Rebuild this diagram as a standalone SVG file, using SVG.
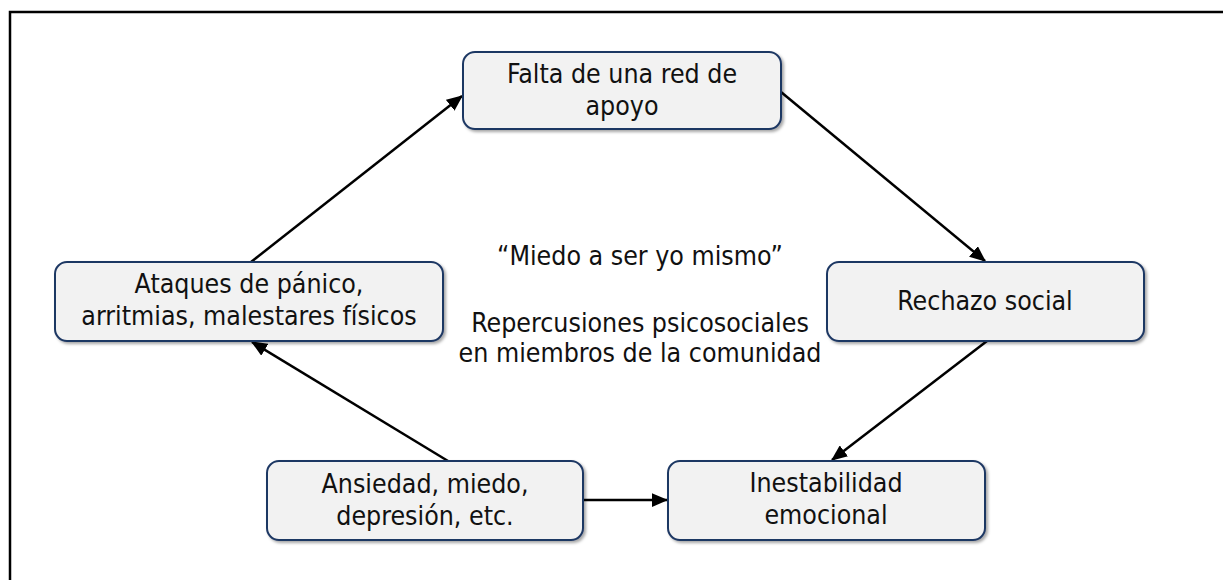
<svg xmlns="http://www.w3.org/2000/svg" width="1223" height="580" viewBox="0 0 1223 580">
<style>
.box{fill:#f2f2f2;stroke:#1f3864;stroke-width:2;filter:url(#sh)}
.t{font-family:"DejaVu Sans Condensed","DejaVu Sans",sans-serif;font-size:26.5px;fill:#111;text-anchor:middle}
.c{stroke:#000;stroke-width:2.5;fill:none;marker-end:url(#ah)}
</style>
<defs>
<filter id="sh" x="-10%" y="-20%" width="120%" height="140%">
<feDropShadow dx="2" dy="2" stdDeviation="1.5" flood-color="#000" flood-opacity="0.35"/>
</filter>
<marker id="ah" markerWidth="6.5" markerHeight="5.5" refX="6" refY="2.75" orient="auto" markerUnits="strokeWidth">
<path d="M0,0 L6.5,2.75 L0,5.5 Z" fill="#000"/>
</marker>
</defs>
<rect width="1223" height="580" fill="#fff"/>
<path d="M10,580 V12 H1223" stroke="#000" stroke-width="2.5" fill="none"/>
<g id="connectors">
<line class="c" x1="781" y1="92" x2="985" y2="261"/>
<line class="c" x1="987" y1="341" x2="832" y2="460"/>
<line class="c" x1="583" y1="500" x2="667" y2="500"/>
<line class="c" x1="448" y1="461" x2="252" y2="342"/>
<line class="c" x1="251" y1="262" x2="462" y2="96"/>
</g>
<g id="n-falta">
<rect class="box" x="463" y="52" width="318" height="77" rx="12"/>
<text class="t" x="622" y="83">Falta de una red de</text>
<text class="t" x="622" y="115">apoyo</text>
</g>
<g id="n-ataques">
<rect class="box" x="55" y="262" width="388" height="79" rx="12"/>
<text class="t" x="249" y="293">Ataques de pánico,</text>
<text class="t" x="249" y="325">arritmias, malestares físicos</text>
</g>
<g id="n-rechazo">
<rect class="box" x="827" y="262" width="317" height="79" rx="12"/>
<text class="t" x="985" y="310">Rechazo social</text>
</g>
<g id="n-ansiedad">
<rect class="box" x="267" y="461" width="316" height="79" rx="12"/>
<text class="t" x="425" y="493">Ansiedad, miedo,</text>
<text class="t" x="425" y="525">depresión, etc.</text>
</g>
<g id="n-inestabilidad">
<rect class="box" x="668" y="461" width="317" height="79" rx="12"/>
<text class="t" x="826" y="492">Inestabilidad</text>
<text class="t" x="826" y="524">emocional</text>
</g>
<g id="center-text">
<text class="t" x="640" y="265">“Miedo a ser yo mismo”</text>
<text class="t" x="640" y="332">Repercusiones psicosociales</text>
<text class="t" x="640" y="362">en miembros de la comunidad</text>
</g>
</svg>
